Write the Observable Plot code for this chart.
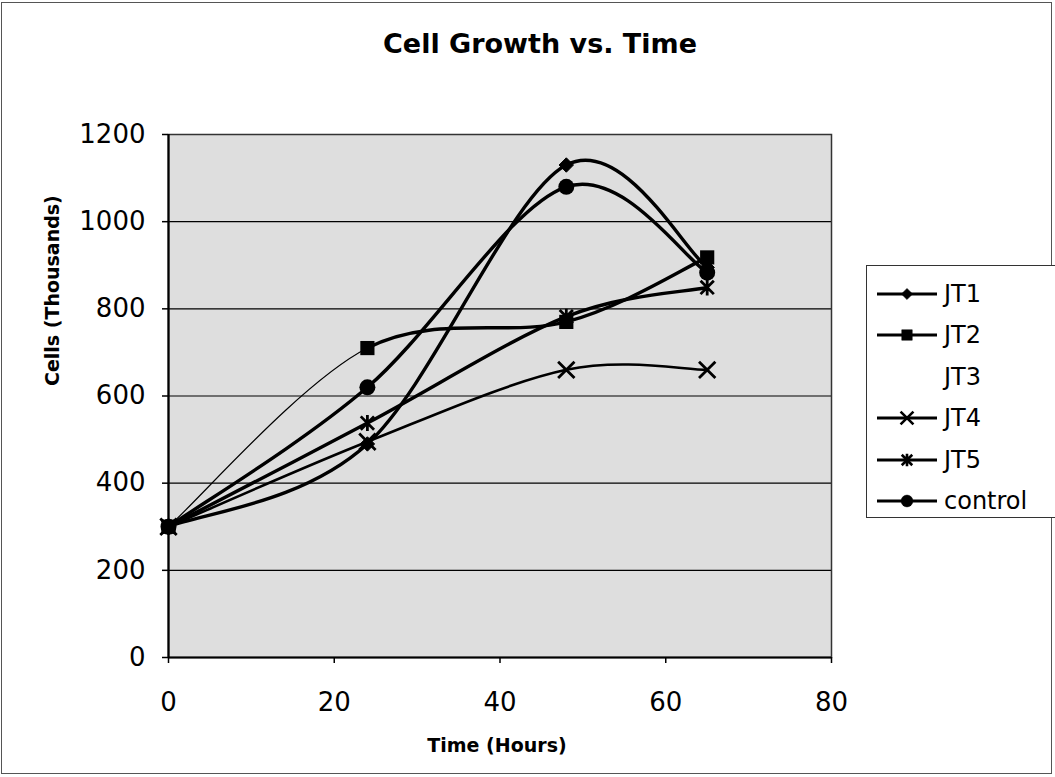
<!DOCTYPE html>
<html>
<head>
<meta charset="utf-8">
<script src="https://cdn.jsdelivr.net/npm/d3@7"></script>
<script src="https://cdn.jsdelivr.net/npm/@observablehq/plot@0.6"></script>
<style>
  html, body { margin: 0; padding: 0; background: #fff; }
  #chart {
    position: relative; width: 1055px; height: 777px; overflow: hidden;
    font-family: "DejaVu Sans", Verdana, sans-serif; color: #000;
  }
  #chart svg.plot { position: absolute; left: 0; top: 0; }
  #border {
    position: absolute; left: 1px; top: 2px; width: 1051px; height: 772px;
    border: 1px solid #555; box-sizing: border-box; pointer-events: none;
  }
  #title {
    position: absolute; left: 0; top: 28px; width: 1080px; text-align: center;
    font-weight: bold; font-size: 27px; line-height: 32px;
  }
  #legend {
    position: absolute; left: 866px; top: 265px; width: 200px; height: 253px;
    border: 1px solid #333; background: #fff; box-sizing: border-box;
    padding-top: 7px;
  }
  .row { display: flex; align-items: center; height: 41.5px; font-size: 24px; }
  .row svg { width: 64px; height: 30px; margin-left: 8px; margin-right: 5px; flex: none; }
</style>
</head>
<body>
<div id="chart">
  <div id="title">Cell Growth vs. Time</div>
  <div id="border"></div>
</div>
<script>
// ---- data ----
const hours   = [0, 24, 48, 65];
const JT1     = [300, 490, 1130, 895];
const JT2     = [300, 710, 770, 918];
const JT3     = [];               // listed in legend, nothing plotted
const JT4     = [300, 495, 660, 660];
const JT5     = [300, 538, 782, 849];
const control = [300, 620, 1080, 883];

const seriesNames = ["JT1", "JT2", "JT3", "JT4", "JT5", "control"];
const seriesValues = [JT1, JT2, JT3, JT4, JT5, control];
const xTicks = [0, 20, 40, 60, 80];
const yTicks = [0, 200, 400, 600, 800, 1000, 1200];

const rows = [];
seriesNames.forEach((s, k) => seriesValues[k].forEach((v, i) => rows.push({series: s, hour: hours[i], cells: v})));

// Excel-style smoothed line (uniform Catmull-Rom as cubic Bezier), optional segment range
function smooth(from = 0, to = Infinity) {
  return function(context) {
    let pts;
    return {
      areaStart() {}, areaEnd() {},
      lineStart() { pts = []; },
      point(x, y) { pts.push([+x, +y]); },
      lineEnd() {
        const n = pts.length;
        if (n < 2) return;
        const P = i => pts[Math.max(0, Math.min(n - 1, i))];
        const last = Math.min(n - 1, to);
        for (let i = from; i < last; i++) {
          const p0 = P(i - 1), p1 = P(i), p2 = P(i + 1), p3 = P(i + 2);
          if (i === from) context.moveTo(p1[0], p1[1]);
          context.bezierCurveTo(
            p1[0] + (p2[0] - p0[0]) / 6, p1[1] + (p2[1] - p0[1]) / 6,
            p2[0] - (p3[0] - p1[0]) / 6, p2[1] - (p3[1] - p1[1]) / 6,
            p2[0], p2[1]);
        }
      }
    };
  };
}

// Excel-style asterisk: an X with a vertical bar
const excelStar = {
  draw(context, size) {
    const r = Math.sqrt(size) * 0.5;
    context.moveTo(-r, -r); context.lineTo(r, r);
    context.moveTo(-r, r); context.lineTo(r, -r);
    context.moveTo(0, -r * 1.2); context.lineTo(0, r * 1.2);
  }
};

const of = s => rows.filter(d => d.series === s);
const XY = {x: "hour", y: "cells"};

const marks = [
  Plot.frame({fill: "#dedede"}),
  Plot.gridY(yTicks.filter(t => t > 0 && t < 1200), {stroke: "#000", strokeOpacity: 1, strokeWidth: 1.2}),
  Plot.frame({stroke: "#333", strokeWidth: 1.5}),
  Plot.ruleX([0], {stroke: "#000", strokeWidth: 2.2}),
  Plot.ruleY([0], {stroke: "#000", strokeWidth: 2.2}),
  Plot.axisY({ticks: yTicks, tickSize: 6, tickPadding: 17, fontSize: 26, label: null, tickFormat: d => String(d), strokeWidth: 1.5}),
  Plot.axisX({ticks: xTicks, tickSize: 6, tickPadding: 29, fontSize: 26, label: null, tickFormat: d => String(d), strokeWidth: 1.5}),
  Plot.text(["Cells (Thousands)"], {frameAnchor: "left", dx: -116, dy: -10, rotate: -90, fontSize: 19, fontWeight: "bold"}),
  Plot.text(["Time (Hours)"], {frameAnchor: "bottom", dx: -3, dy: 94, fontSize: 19, fontWeight: "bold"}),

  // JT1
  Plot.line(of("JT1"), {...XY, stroke: "#000", strokeWidth: 3.4, curve: smooth()}),
  Plot.dot(of("JT1"), {...XY, symbol: "diamond2", r: 6.5, fill: "#000", stroke: "#000", strokeWidth: 1}),
  // JT2 (first segment faint in the scan)
  Plot.line(of("JT2"), {...XY, stroke: "#000", strokeWidth: 1.2, curve: smooth(0, 1)}),
  Plot.line(of("JT2"), {...XY, stroke: "#000", strokeWidth: 3.4, curve: smooth(1)}),
  Plot.dot(of("JT2"), {...XY, symbol: "square", r: 8, fill: "#000", stroke: "none"}),
  // JT4
  Plot.line(of("JT4"), {...XY, stroke: "#000", strokeWidth: 2.6, curve: smooth()}),
  Plot.dot(of("JT4"), {...XY, symbol: "times", r: 7.5, fill: "none", stroke: "#000", strokeWidth: 2.8}),
  // JT5
  Plot.line(of("JT5"), {...XY, stroke: "#000", strokeWidth: 3.4, curve: smooth()}),
  Plot.dot(of("JT5"), {...XY, symbol: excelStar, r: 7.5, fill: "none", stroke: "#000", strokeWidth: 2.8}),
  // control
  Plot.line(of("control"), {...XY, stroke: "#000", strokeWidth: 3.4, curve: smooth()}),
  Plot.dot(of("control"), {...XY, symbol: "circle", r: 8, fill: "#000", stroke: "none"})
];

const chart = Plot.plot({
  width: 1055, height: 777,
  marginLeft: 168, marginRight: 224, marginTop: 134, marginBottom: 120,
  x: {domain: [0, 80]},
  y: {domain: [0, 1200]},
  style: {fontFamily: "DejaVu Sans, Verdana, sans-serif", background: "transparent", color: "#000"},
  marks
});
chart.classList.add("plot");
const root = document.getElementById("chart");
root.insertBefore(chart, root.firstChild);

// legend
const symbolsFor = {JT1: "diamond2", JT2: "square", JT3: null, JT4: "times", JT5: "asterisk", control: "circle"};
const legend = document.createElement("div");
legend.id = "legend";
seriesNames.forEach(s => {
  const row = document.createElement("div");
  row.className = "row";
  const sym = symbolsFor[s];
  const svg = d3.create("svg").attr("viewBox", "0 0 64 30");
  if (sym) {
    svg.append("line").attr("x1", 2).attr("x2", 62).attr("y1", 15).attr("y2", 15).attr("stroke", "#000").attr("stroke-width", 2.8);
    const stroked = sym === "times" || sym === "asterisk";
    const d3sym = {diamond2: d3.symbolDiamond2, square: d3.symbolSquare, times: d3.symbolTimes, asterisk: excelStar, circle: d3.symbolCircle}[sym];
    svg.append("path").attr("transform", "translate(32,15)")
      .attr("d", d3.symbol(d3sym, sym === "diamond2" ? 80 : 110)())
      .attr("fill", stroked ? "none" : "#000")
      .attr("stroke", "#000").attr("stroke-width", stroked ? 2.6 : 0.5);
  }
  row.appendChild(svg.node());
  const t = document.createElement("span");
  t.textContent = s;
  row.appendChild(t);
  legend.appendChild(row);
});
root.appendChild(legend);
</script>
</body>
</html>
